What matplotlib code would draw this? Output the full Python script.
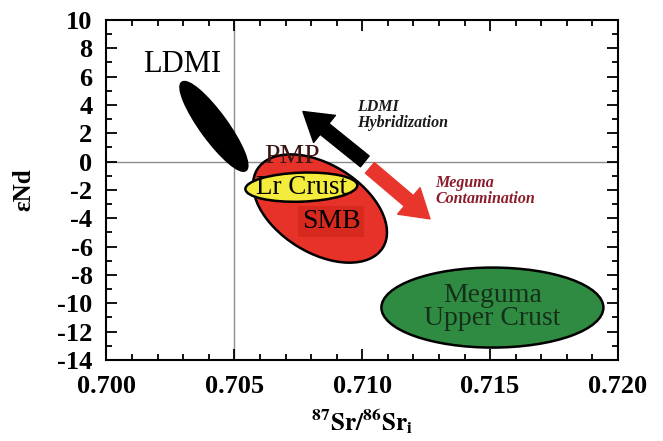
import numpy as np
import matplotlib.pyplot as plt
from matplotlib.patches import Ellipse
from matplotlib.transforms import Affine2D
from matplotlib.ticker import MultipleLocator

plt.rcParams['font.family'] = ['Liberation Serif', 'DejaVu Serif']
plt.rcParams['mathtext.fontset'] = 'stix'
plt.rcParams['axes.unicode_minus'] = False

# source fields: centre (87Sr/86Sr, eNd), axis lengths, tilt
fields = ['LDMI', 'SMB', 'Lr Crust', 'Meguma Upper Crust']
cx = [0.70420, 0.70835, 0.70762, 0.71509]
cy = [2.49, -3.31, -1.80, -10.30]
major = [108, 148, 112, 222]
minor = [26, 88, 29, 80]
tilt = [-54, -32, 2, 0]
fill = ['black', '#e63229', '#f4ec3c', '#2f8b41']

# trend arrows, tail -> head
arrow_names = ['LDMI\nHybridization', 'Meguma\nContamination']
arr_x0 = [0.71010, 0.71030]
arr_y0 = [0.02, -0.44]
arr_x1 = [0.70768, 0.71265]
arr_y1 = [3.54, -4.04]

xlim = (0.700, 0.720)
ylim = (-14, 10)

fig = plt.figure(figsize=(6.63, 4.41), dpi=100)
ax = fig.add_axes([0.1606, 0.1837, 0.7715, 0.771])
ax.set_xlim(*xlim)
ax.set_ylim(*ylim)

# shape units ~ screen pixels, so the ellipses keep their look
kx = (xlim[1] - xlim[0]) / 511.5
ky = (ylim[1] - ylim[0]) / 340.0

ax.axvline(0.705, color='#8c8c8c', lw=1, zorder=1)
ax.axhline(0, color='#8c8c8c', lw=1, zorder=1)

for i in range(len(fields)):
    e = Ellipse((0, 0), major[i], minor[i], angle=tilt[i],
                facecolor=fill[i], edgecolor='black', lw=1.8,
                transform=Affine2D().scale(kx, ky).translate(cx[i], cy[i]) + ax.transData,
                zorder=3 if i != 2 else 4)
    ax.add_patch(e)

arrow_cols = ['black', '#e8362d']
for i in range(2):
    ax.annotate('', xy=(arr_x1[i], arr_y1[i]), xytext=(arr_x0[i], arr_y0[i]),
                arrowprops=dict(arrowstyle='simple,head_width=1.25,head_length=1.0,tail_width=0.5',
                                mutation_scale=20, fc=arrow_cols[i], ec=arrow_cols[i],
                                shrinkA=0, shrinkB=0), zorder=5)

ax.text(0.70295, 6.83, 'LDMI', fontsize=22, ha='center', va='center', zorder=6)
ax.text(0.70725, 0.35, 'PMP', fontsize=20, ha='center', va='center', color='#3a1612', zorder=3.5)
ax.text(0.70762, -1.80, 'Lr Crust', fontsize=19.5, ha='center', va='center', zorder=6)
ax.text(0.70878, -4.22, 'SMB', fontsize=20, ha='center', va='center', zorder=6,
        bbox=dict(boxstyle='square,pad=0.12', fc='#d8291f', ec='none'))
ax.text(0.71509, -10.25, 'Meguma\nUpper Crust', fontsize=20, ha='center', va='center',
        color='#15301a', linespacing=0.9, zorder=6)
ax.text(0.70980, 3.31, arrow_names[0], fontsize=11.5, ha='left', va='center',
        style='italic', fontweight='bold', color='#1a1a1a', linespacing=1.0, zorder=6)
ax.text(0.71287, -2.04, arrow_names[1], fontsize=11.5, ha='left', va='center',
        style='italic', fontweight='bold', color='#8b1c2c', linespacing=1.0, zorder=6)

ax.xaxis.set_major_locator(MultipleLocator(0.005))
ax.xaxis.set_minor_locator(MultipleLocator(0.001))
ax.yaxis.set_major_locator(MultipleLocator(2))
ax.yaxis.set_minor_locator(MultipleLocator(1))
ax.xaxis.set_major_formatter(lambda v, p: f'{v:.3f}')
ax.tick_params(which='both', direction='in', top=True, right=True, width=1.3)
ax.tick_params(which='major', length=8, labelsize=19)
ax.tick_params(axis='x', which='major', pad=11)
ax.tick_params(axis='y', which='major', pad=10)
ax.tick_params(which='minor', length=4)
for lab in ax.get_xticklabels() + ax.get_yticklabels():
    lab.set_fontweight('bold')
for s in ax.spines.values():
    s.set_linewidth(1.5)

ax.set_xlabel(r'$\mathbf{^{87}Sr/^{86}Sr_i}$', fontsize=18, labelpad=6)
ax.set_ylabel('εNd', fontsize=18, fontweight='bold', labelpad=16)

fig.savefig('out.png', dpi=100)
